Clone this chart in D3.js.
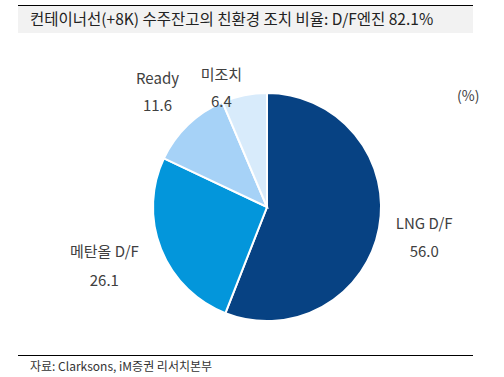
<!DOCTYPE html>
<html>
<head>
<meta charset="utf-8">
<script src="https://cdn.jsdelivr.net/npm/d3@7/dist/d3.min.js"></script>
<style>
  body { margin:0; background:#fff; }
  text { font-family: "Noto Sans CJK KR", "Noto Sans", sans-serif; fill:#404040; }
</style>
</head>
<body>
<div id="chart"></div>
<script>
var labels = [ 'LNG D/F', '메탄올 D/F', 'Ready', '미조치' ],
    values = [ 56.0, 26.1, 11.6, 6.4 ],
    colors = [ '#074283', '#0396db', '#a6d2f7', '#d8ebfb' ];

var w = 504, h = 377,
    cx = 267, cy = 207, r = 114;

var svg = d3.select("#chart")
  .append("svg")
    .attr("width", w)
    .attr("height", h);

// title band
svg.append("line")
    .attr("x1", 18).attr("x2", 473)
    .attr("y1", 5.5).attr("y2", 5.5)
    .attr("stroke", "#000").attr("stroke-width", 1);
svg.append("rect")
    .attr("x", 18).attr("y", 6)
    .attr("width", 455).attr("height", 27)
    .attr("fill", "#f2f2f2");
svg.append("text")
    .attr("x", 30).attr("y", 25)
    .style("font-size", "15.5px")
    .style("fill", "#222")
    .text("컨테이너선(+8K) 수주잔고의 친환경 조치 비율: D/F엔진 82.1%");

var pie = d3.pie().sort(null).value(function(d) { return d; }),
    arc = d3.arc().innerRadius(0).outerRadius(r);

var g = svg.append("g")
    .attr("transform", "translate(" + cx + "," + cy + ")");

g.selectAll("path")
    .data(pie(values))
  .enter().append("path")
    .attr("d", arc)
    .attr("fill", function(d, i) { return colors[i]; })
    .attr("stroke", "#fff")
    .attr("stroke-width", 2);

// labels sit outside each slice, along its mid angle, nudged a little
var labelR = [ 160, 175, 158, 118 ],
    nudge = [ [ 0, 6 ], [ 0, 0 ], [ 0, 4 ], [ -22, 2 ] ],
    lineGap = [ 28, 29, 27, 27 ];
pie(values).forEach(function(d, i) {
  var a = (d.startAngle + d.endAngle) / 2,
      x = Math.sin(a) * labelR[i] + nudge[i][0],
      y = -Math.cos(a) * labelR[i] + nudge[i][1];
  var t = g.append("text")
      .attr("text-anchor", "middle")
      .style("font-size", "15px");
  t.append("tspan").attr("x", x).attr("y", y - lineGap[i] / 2).text(labels[i]);
  t.append("tspan").attr("x", x).attr("y", y + lineGap[i] / 2).text(values[i].toFixed(1));
});

svg.append("text")
    .attr("x", 457).attr("y", 101)
    .style("font-size", "14px")
    .text("(%)");

// footer
svg.append("line")
    .attr("x1", 18).attr("x2", 473)
    .attr("y1", 355.5).attr("y2", 355.5)
    .attr("stroke", "#000").attr("stroke-width", 1);
svg.append("text")
    .attr("x", 30).attr("y", 371)
    .style("font-size", "12px")
    .style("fill", "#333")
    .text("자료: Clarksons, iM증권 리서치본부");
</script>
</body>
</html>
